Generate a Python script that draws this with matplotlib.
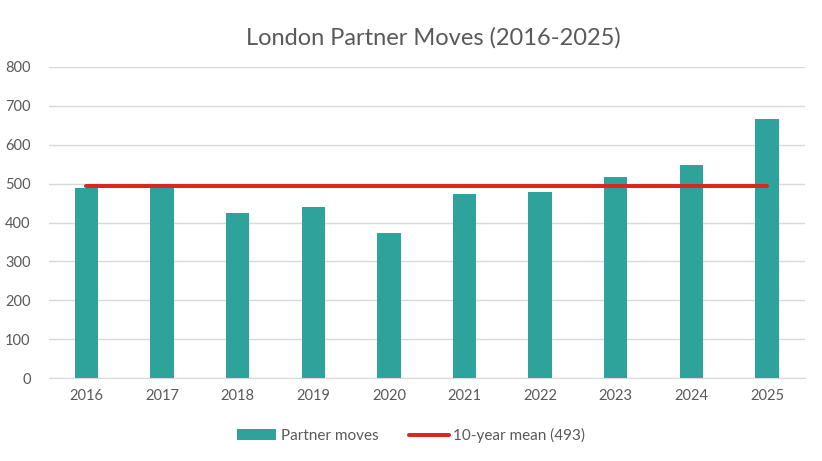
import matplotlib
matplotlib.use("Agg")
import matplotlib.pyplot as plt
from matplotlib.lines import Line2D
from matplotlib.patches import Patch

years = ["2016", "2017", "2018", "2019", "2020", "2021", "2022", "2023", "2024", "2025"]
partner_moves = [490, 500, 424, 440, 373, 473, 478, 516, 549, 667]
mean_value = 493
mean_label = "10-year mean (493)"
bar_label = "Partner moves"
title = "London Partner Moves (2016-2025)"
yticks = [0, 100, 200, 300, 400, 500, 600, 700, 800]

plt.rcParams['font.family'] = ['Lato', 'DejaVu Sans']
teal = "#2EA39C"
red = "#D9281E"
txt = "#595959"
grid = "#D9D9D9"

fig = plt.figure(figsize=(8.22, 4.61), dpi=100)
ax = fig.add_axes([0.0592, 0.18, 0.9198, 0.6747])
x = list(range(len(years)))
ax.bar(x, partner_moves, width=0.31, color=teal, zorder=2)
ax.plot([x[0], x[-1]], [mean_value, mean_value], color=red, linewidth=2.9,
        solid_capstyle="round", zorder=3)

ax.set_xlim(-0.5, len(years) - 0.5)
ax.set_ylim(0, 800)
ax.set_yticks(yticks)
ax.set_xticks(x)
ax.set_xticklabels(years)
ax.yaxis.grid(True, color=grid, linewidth=1)
ax.set_axisbelow(True)
for s in ["top", "right", "left"]:
    ax.spines[s].set_visible(False)
ax.spines["bottom"].set_color(grid)
ax.tick_params(axis="both", length=0, colors=txt, labelsize=10.5)
ax.tick_params(axis="y", pad=13)
ax.tick_params(axis="x", pad=8)

fig.text(0.527, 0.918, title, ha="center", va="center", fontsize=17, color=txt)

handles = [Patch(facecolor=teal), Line2D([0], [0], color=red, linewidth=2.9, solid_capstyle="round")]
fig.legend(handles, [bar_label, mean_label], loc="center", bbox_to_anchor=(0.5, 0.055),
           ncol=2, frameon=False, fontsize=11, labelcolor=txt, handlelength=2.6,
           columnspacing=2.0, handletextpad=0.3)

fig.savefig("out.png", dpi=100)
